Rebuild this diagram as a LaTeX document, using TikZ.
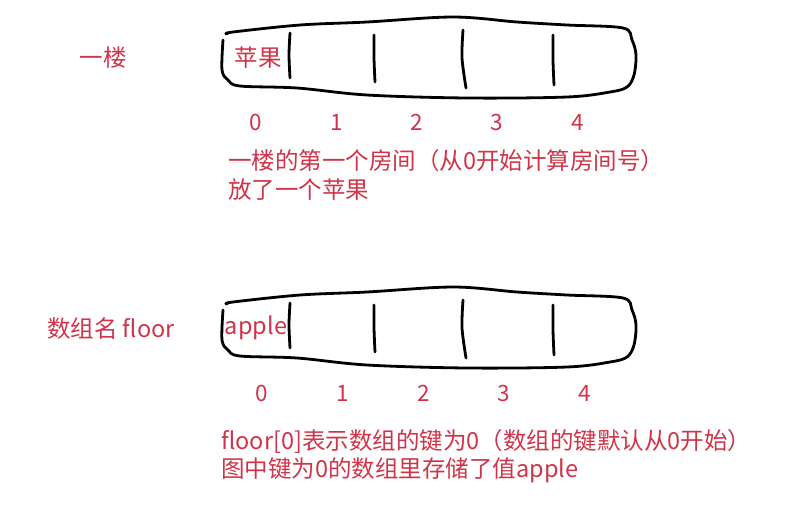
\documentclass[tikz,border=0pt]{standalone}
\usepackage{fontspec}
\setmainfont{Noto Sans CJK SC}
\definecolor{txtred}{RGB}{208,52,72}
\begin{document}
\begin{tikzpicture}[x=1pt,y=-1pt,
  txt/.style={text=txtred,inner sep=0pt,font=\fontsize{23.5}{27}\selectfont},
  idx/.style={text=txtred,inner sep=0pt,font=\fontsize{22.5}{25}\selectfont},
  ink/.style={line width=2.8pt,line cap=round,line join=round,black},
  arraybox/.pic={
    \draw[ink] plot[smooth,tension=0.55] coordinates {(223,40) (222,70) (228,80) (240,86) (297,88) (367,95) (467,98) (567,97) (610,92) (627,87) (634,75) (636,55) (632,40) (623,28) (567,25) (517,22) (453,17) (367,22) (300,25) (233,32) (227,34)};
    \draw[ink] plot[smooth] coordinates {(290,33) (289,55) (290,78)};
    \draw[ink] plot[smooth] coordinates {(374,35) (374,58) (375,82)};
    \draw[ink] plot[smooth] coordinates {(463,30) (462,58) (466,88)};
    \draw[ink] plot[smooth] coordinates {(553,35) (553,60) (554,85)};
  }]
\useasboundingbox (0,0) rectangle (795,523);
\pic at (0,0) {arraybox};
\pic at (0,270) {arraybox};
\node[txt] (l1) at (103,58) {一楼};
\node[txt] (v1) at (258,58) {苹果};
\node[idx] (a0) at (256,122) {0};
\node[idx] (a1) at (337,122) {1};
\node[idx] (a2) at (417,122) {2};
\node[idx] (a3) at (497,122) {3};
\node[idx] (a4) at (578,122) {4};
\node[txt,anchor=west] (t1) at (228,161) {一楼的第一个房间（从0开始计算房间号）};
\node[txt,anchor=west] (t2) at (228,190) {放了一个苹果};
\node[txt,anchor=west] (l2) at (47,329) {数组名 floor};
\node[txt] (v2) at (256,328) {apple};
\node[idx] (b0) at (262,393) {0};
\node[idx] (b1) at (343,393) {1};
\node[idx] (b2) at (424,393) {2};
\node[idx] (b3) at (504,393) {3};
\node[idx] (b4) at (585,393) {4};
\node[txt,anchor=west] (s1) at (221,441) {floor[0]表示数组的键为0（数组的键默认从0开始）};
\node[txt,anchor=west] (s2) at (221,470) {图中键为0的数组里存储了值apple};
\end{tikzpicture}
\end{document}
